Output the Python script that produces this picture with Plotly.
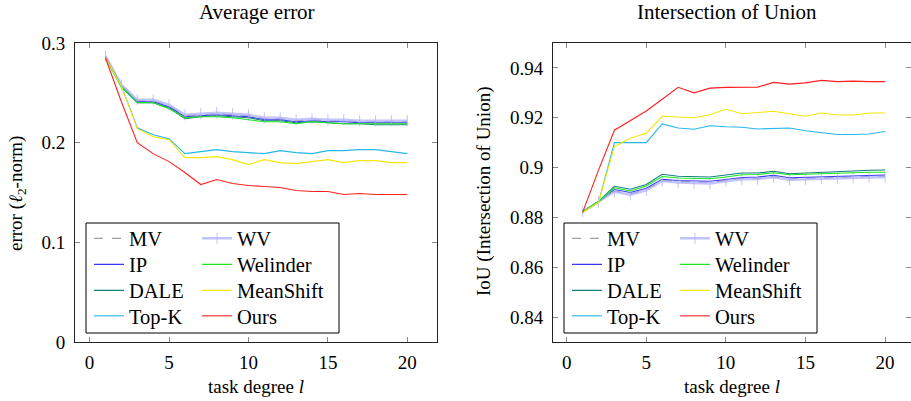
import plotly.graph_objects as go

# ---------------- data ----------------
x_deg = list(range(1, 21))

# Average error (l2-norm)
err_MV = [0.286, 0.257, 0.242, 0.242, 0.237, 0.227, 0.228, 0.229, 0.228, 0.227,
          0.224, 0.224, 0.222, 0.223, 0.222, 0.222, 0.221, 0.221, 0.221, 0.221]
err_WV = [0.287, 0.258, 0.243, 0.243, 0.238, 0.228, 0.229, 0.230, 0.229, 0.228,
          0.225, 0.225, 0.223, 0.224, 0.223, 0.223, 0.222, 0.222, 0.222, 0.222]
err_IP = [0.286, 0.257, 0.241, 0.241, 0.236, 0.226, 0.227, 0.228, 0.227, 0.226,
          0.223, 0.223, 0.221, 0.222, 0.221, 0.221, 0.220, 0.220, 0.220, 0.220]
err_Welinder = [0.285, 0.256, 0.240, 0.240, 0.234, 0.225, 0.226, 0.226, 0.225, 0.223,
                0.221, 0.221, 0.219, 0.221, 0.220, 0.219, 0.219, 0.219, 0.219, 0.219]
err_DALE = [0.285, 0.256, 0.240, 0.240, 0.235, 0.224, 0.226, 0.227, 0.226, 0.225,
            0.222, 0.222, 0.220, 0.221, 0.220, 0.219, 0.219, 0.218, 0.218, 0.218]
err_MeanShift = [0.285, 0.257, 0.214, 0.206, 0.203, 0.185, 0.185, 0.186, 0.183, 0.178,
                 0.183, 0.180, 0.179, 0.181, 0.183, 0.180, 0.182, 0.182, 0.180, 0.180]
err_TopK = [0.285, 0.257, 0.215, 0.208, 0.204, 0.189, 0.191, 0.193, 0.191, 0.190,
            0.189, 0.192, 0.190, 0.189, 0.192, 0.192, 0.193, 0.193, 0.191, 0.189]
err_Ours = [0.285, 0.241, 0.200, 0.189, 0.181, 0.170, 0.158, 0.163, 0.159, 0.157,
            0.156, 0.155, 0.152, 0.151, 0.151, 0.148, 0.149, 0.148, 0.148, 0.148]

# Intersection of Union
iou_MV = [0.8823, 0.8863, 0.8906, 0.8894, 0.8912, 0.8950, 0.8944, 0.8942, 0.8941, 0.8949,
          0.8957, 0.8957, 0.8964, 0.8955, 0.8957, 0.8960, 0.8962, 0.8964, 0.8966, 0.8966]
iou_WV = [0.8823, 0.8862, 0.8903, 0.8891, 0.8909, 0.8946, 0.8940, 0.8938, 0.8936, 0.8945,
          0.8953, 0.8954, 0.8961, 0.8951, 0.8953, 0.8956, 0.8958, 0.8960, 0.8962, 0.8962]
iou_IP = [0.8823, 0.8864, 0.8912, 0.8900, 0.8917, 0.8953, 0.8948, 0.8946, 0.8945, 0.8952,
          0.8960, 0.8962, 0.8969, 0.8959, 0.8961, 0.8964, 0.8966, 0.8968, 0.8970, 0.8970]
iou_Welinder = [0.8823, 0.8864, 0.8919, 0.8906, 0.8926, 0.8964, 0.8958, 0.8957, 0.8955, 0.8962,
                0.8971, 0.8972, 0.8979, 0.8971, 0.8973, 0.8976, 0.8978, 0.8980, 0.8981, 0.8981]
iou_DALE = [0.8823, 0.8864, 0.8925, 0.8913, 0.8932, 0.8973, 0.8965, 0.8963, 0.8962, 0.8970,
            0.8978, 0.8978, 0.8985, 0.8975, 0.8977, 0.8981, 0.8983, 0.8986, 0.8989, 0.8990]
iou_MeanShift = [0.882, 0.886, 0.9085, 0.9118, 0.9138, 0.9206, 0.9203, 0.9200, 0.9212, 0.9234,
                 0.9216, 0.9222, 0.9226, 0.9216, 0.9206, 0.9219, 0.9211, 0.9211, 0.9219, 0.9219]
iou_TopK = [0.882, 0.886, 0.9100, 0.9100, 0.9100, 0.9175, 0.9159, 0.9154, 0.9168, 0.9164,
            0.9162, 0.9155, 0.9158, 0.9159, 0.9148, 0.9142, 0.9133, 0.9133, 0.9135, 0.9145]
iou_Ours = [0.882, 0.899, 0.9150, 0.9187, 0.9227, 0.9274, 0.9322, 0.9300, 0.9319, 0.9322,
            0.9323, 0.9323, 0.9342, 0.9335, 0.9340, 0.9350, 0.9345, 0.9347, 0.9345, 0.9345]

x_ticks = [0, 5, 10, 15, 20]
err_ticks = [0, 0.1, 0.2, 0.3]
err_ticklabels = ["0", "0.1", "0.2", "0.3"]
iou_ticks = [0.84, 0.86, 0.88, 0.90, 0.92, 0.94]
iou_ticklabels = ["0.84", "0.86", "0.88", "0.9", "0.92", "0.94"]

# legend layout: (column, row) for each method
legend_cells = {"MV": (0, 0), "WV": (1, 0), "IP": (0, 1), "Welinder": (1, 1),
                "DALE": (0, 2), "MeanShift": (1, 2), "Top-K": (0, 3), "Ours": (1, 3)}

# ---------------- styles ----------------
FONT = "Liberation Serif"
W, H = 911, 401

styles = {
    "MV": dict(line=dict(color="#a0a0a0", width=1.2, dash="dash"), mode="lines"),
    "WV": dict(line=dict(color="rgba(170,170,255,0.7)", width=2.5), mode="lines+markers",
               marker=dict(symbol="line-ns-open", size=8,
                           line=dict(color="rgba(150,150,255,0.85)", width=1))),
    "IP": dict(line=dict(color="#3a3af2", width=1.1), mode="lines"),
    "Welinder": dict(line=dict(color="#1ee61e", width=1.1), mode="lines"),
    "DALE": dict(line=dict(color="#118080", width=1.1), mode="lines"),
    "MeanShift": dict(line=dict(color="#f4e60c", width=1.1), mode="lines"),
    "Top-K": dict(line=dict(color="#25b6ec", width=1.1), mode="lines"),
    "Ours": dict(line=dict(color="#ff2020", width=1.1), mode="lines"),
}

left_series = [("MV", err_MV), ("IP", err_IP), ("DALE", err_DALE), ("Top-K", err_TopK),
               ("WV", err_WV), ("Welinder", err_Welinder), ("MeanShift", err_MeanShift),
               ("Ours", err_Ours)]
right_series = [("MV", iou_MV), ("IP", iou_IP), ("DALE", iou_DALE), ("Top-K", iou_TopK),
                ("WV", iou_WV), ("Welinder", iou_Welinder), ("MeanShift", iou_MeanShift),
                ("Ours", iou_Ours)]


def px(v):
    return v / W


def py(v):
    return (H - v) / H


fig = go.Figure()
legend_layouts = {}
leg_common = dict(xanchor="left", yanchor="middle", bgcolor="rgba(0,0,0,0)", borderwidth=0,
                  font=dict(family=FONT, size=20.5, color="black"), itemwidth=30,
                  itemclick=False, itemdoubleclick=False, visible=True)
# sample-line start x for each column (left panel, right panel), row centres
col_x = [[92, 200], [570, 678]]
row_y = [238.5, 264.5, 290.5, 316]
k = 0
for panel, (series, xa, ya) in enumerate([(left_series, "x", "y"), (right_series, "x2", "y2")]):
    for name, vals in series:
        k += 1
        lname = "legend" if k == 1 else f"legend{k}"
        c, r = legend_cells[name]
        fig.add_trace(go.Scatter(x=x_deg, y=vals, name=name, xaxis=xa, yaxis=ya,
                                 legend=lname, showlegend=True, **styles[name]))
        legend_layouts[lname] = dict(x=px(col_x[panel][c] - 3), y=py(row_y[r]), **leg_common)

ydom = [py(342), py(43)]
axis_common = dict(showline=True, linecolor="#222", linewidth=1, ticks="inside",
                   ticklen=5, tickcolor="#888", tickwidth=1, showgrid=False,
                   zeroline=False, mirror="ticks", automargin=False,
                   tickfont=dict(family=FONT, size=19, color="black"))
xt = dict(family=FONT, size=19, color="black")

fig.update_layout(
    width=W, height=H, margin=dict(l=0, r=0, t=0, b=0, autoexpand=False),
    paper_bgcolor="white", plot_bgcolor="white", showlegend=True,
    font=dict(family=FONT, size=19, color="black"),
    xaxis=dict(domain=[px(75), px(437)], range=[-0.92, 21.87], tickvals=x_ticks,
               title=dict(text="task degree <i>l</i>", font=xt, standoff=7),
               anchor="y", ticklabelstandoff=3, **axis_common),
    yaxis=dict(domain=ydom, range=[0, 0.3], tickvals=err_ticks, ticktext=err_ticklabels,
               anchor="x", ticklabelstandoff=5, **axis_common),
    xaxis2=dict(domain=[px(553), 1.0], range=[-0.86, 21.63], tickvals=x_ticks,
                title=dict(text="task degree <i>l</i>", font=xt, standoff=7),
                anchor="y2", ticklabelstandoff=3, **axis_common),
    yaxis2=dict(domain=ydom, range=[0.83, 0.95], tickvals=iou_ticks, ticktext=iou_ticklabels,
                anchor="x2", ticklabelstandoff=5, **axis_common),
    annotations=[
        dict(text="Average error", x=px(257), y=py(12), xref="paper", yref="paper",
             showarrow=False, xanchor="center", yanchor="middle",
             font=dict(family=FONT, size=21)),
        dict(text="Intersection of Union", x=px(727), y=py(12), xref="paper", yref="paper",
             showarrow=False, xanchor="center", yanchor="middle",
             font=dict(family=FONT, size=21)),
        dict(text="error (<i>ℓ</i><sub>2</sub>-norm)", x=px(17), y=py(194), xref="paper",
             yref="paper", showarrow=False, xanchor="center", yanchor="middle",
             textangle=-90, font=xt),
        dict(text="IoU (Intersection of Union)", x=px(484), y=py(192), xref="paper",
             yref="paper", showarrow=False, xanchor="center", yanchor="middle",
             textangle=-90, font=xt),
    ],
    shapes=[
        dict(type="rect", xref="paper", yref="paper", x0=px(86), x1=px(339),
             y0=py(333), y1=py(223), line=dict(color="black", width=1), fillcolor="white",
             layer="below"),
        dict(type="rect", xref="paper", yref="paper", x0=px(564), x1=px(817),
             y0=py(333), y1=py(223), line=dict(color="black", width=1), fillcolor="white",
             layer="below"),
    ],
    **legend_layouts,
)

fig.write_html("out.html")
